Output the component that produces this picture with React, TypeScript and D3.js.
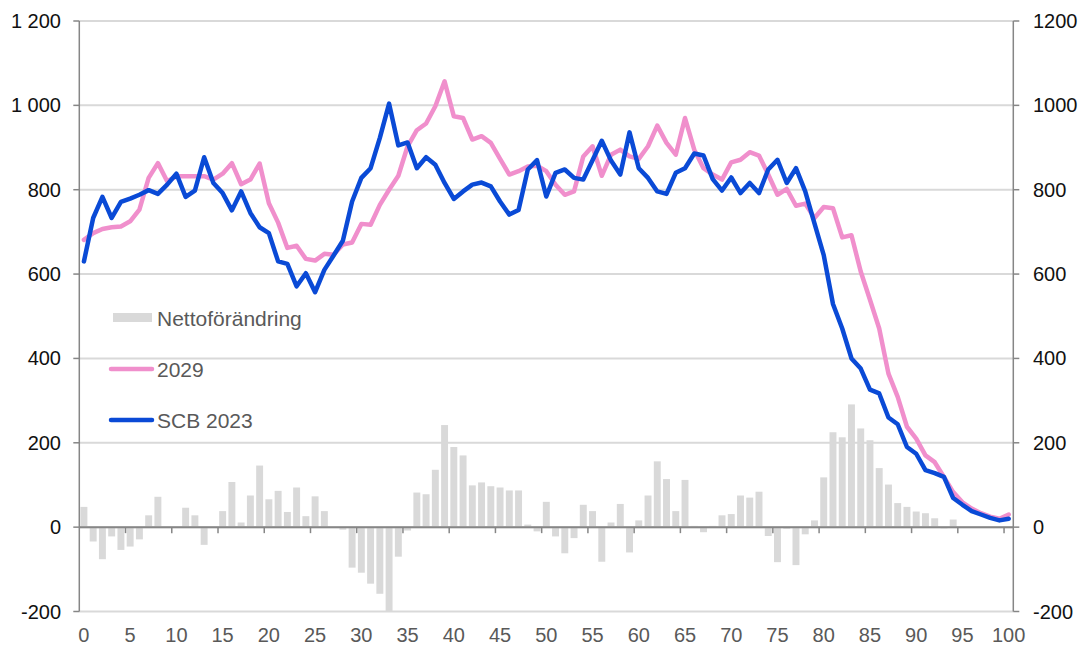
import React from "react";
import * as d3 from "d3";

const ages: number[] = d3.range(0, 101);

const netChange: number[] = [
  48, -34, -76, -22, -54, -46, -29, 28, 72, 0,
  0, 46, 28, -42, 0, 38, 107, 11, 75, 146,
  66, 86, 36, 94, 26, 73, 38, 0, -6, -96,
  -108, -134, -158, -200, -70, -8, 82, 78, 136, 242,
  190, 170, 99, 106, 97, 94, 87, 87, 6, -10,
  60, -22, -62, -26, 53, 38, -82, 11, 55, -60,
  16, 75, 156, 114, 38, 112, 3, -12, 3, 28,
  31, 75, 70, 84, -21, -83, -4, -90, -17, 16,
  118, 225, 213, 291, 234, 206, 140, 101, 57, 48,
  37, 33, 21, -3, 18, 0, 0, 0, 0, 0,
  0,
];

const proj2029: number[] = [
  681, 697, 707, 711, 713, 725, 753, 828, 863, 820,
  832, 832, 832, 832, 824, 838, 863, 813, 824, 862,
  768, 722, 662, 667, 636, 632, 648, 646, 670, 675,
  719, 717, 764, 800, 833, 903, 941, 957, 998, 1057,
  974, 970, 919, 927, 911, 873, 836, 844, 855, 857,
  844, 812, 788, 796, 879, 903, 833, 883, 895, 879,
  873, 903, 952, 911, 883, 970, 895, 851, 836, 824,
  865, 871, 889, 881, 836, 788, 802, 762, 767, 733,
  759, 756, 687, 692, 606, 539, 471, 364, 309, 238,
  210, 170, 154, 119, 83, 59, 44, 33, 25, 20,
  30,
];

const scb2023: number[] = [
  630, 733, 783, 733, 771, 779, 788, 799, 790, 812,
  838, 783, 798, 877, 816, 792, 751, 796, 745, 711,
  697, 630, 624, 571, 602, 557, 610, 644, 679, 772,
  828, 851, 923, 1004, 905, 912, 851, 877, 859, 816,
  778, 796, 812, 817, 808, 772, 741, 752, 848, 870,
  784, 840, 848, 828, 824, 870, 916, 869, 836, 936,
  851, 828, 796, 790, 840, 851, 886, 881, 825, 798,
  829, 792, 816, 792, 848, 871, 816, 851, 796, 720,
  645, 529, 471, 400, 376, 326, 317, 260, 244, 190,
  174, 135, 128, 119, 69, 53, 38, 30, 22, 16,
  20,
];

const yTicks: number[] = [-200, 0, 200, 400, 600, 800, 1000, 1200];
const xTickLabels: number[] = [0, 5, 10, 15, 20, 25, 30, 35, 40, 45, 50, 55, 60, 65, 70, 75, 80, 85, 90, 95, 100];

const legendLabels = { bars: "Nettoförändring", pink: "2029", blue: "SCB 2023" };

const W = 1091;
const H = 646;
const left = 79.3;
const right = 1013.3;
const top = 21;
const bottom = 611.5;

const PINK = "#F08FCC";
const BLUE = "#0A4AD6";
const BAR = "#D9D9D9";
const AXIS = "#868686";
const GRID = "#D9D9D9";
const FONT = "'Liberation Sans', Arial, sans-serif";

export default function App() {
  const x = d3
    .scaleBand<number>()
    .domain(ages)
    .range([left, right])
    .paddingInner(0.25)
    .paddingOuter(0.125);
  const step = x.step();
  const cx = (i: number) => (x(i) as number) + x.bandwidth() / 2;
  const boundary = (i: number) => left + step * i;
  const y = d3.scaleLinear().domain([-200, 1200]).range([bottom, top]);

  const line = d3
    .line<number>()
    .x((_, i) => cx(ages[i]))
    .y((d) => y(d));

  const fmtLeft = (v: number) => {
    const s = Math.abs(v).toString();
    const withSpace = s.length > 3 ? s.slice(0, s.length - 3) + " " + s.slice(-3) : s;
    return (v < 0 ? "-" : "") + withSpace;
  };

  return (
    <svg
      width={W}
      height={H}
      style={{ position: "absolute", left: 0, top: 0, background: "#fff" }}
      fontFamily={FONT}
    >
      {/* gridlines */}
      {yTicks.map((t) => (
        <line
          key={"g" + t}
          x1={left}
          x2={right}
          y1={y(t)}
          y2={y(t)}
          stroke={GRID}
          strokeWidth={2}
        />
      ))}

      {/* bars */}
      {ages.map((a, i) => {
        const v = netChange[i];
        if (v === 0) return null;
        const y0 = y(0);
        const y1 = y(v);
        return (
          <rect
            key={"b" + a}
            x={x(a)}
            width={x.bandwidth()}
            y={Math.min(y0, y1)}
            height={Math.abs(y1 - y0)}
            fill={BAR}
          />
        );
      })}

      {/* zero axis */}
      <line x1={left} x2={right} y1={y(0)} y2={y(0)} stroke={AXIS} strokeWidth={2} />
      {xTickLabels.filter((t) => t > 0).map((t) => (
        <line
          key={"xt" + t}
          x1={boundary(t)}
          x2={boundary(t)}
          y1={y(0)}
          y2={y(0) + 6}
          stroke={AXIS}
          strokeWidth={1.5}
        />
      ))}

      {/* left axis */}
      <line x1={left} x2={left} y1={top} y2={bottom} stroke={AXIS} strokeWidth={1.5} />
      {yTicks.map((t) => (
        <g key={"ly" + t}>
          <line x1={left - 6} x2={left} y1={y(t)} y2={y(t)} stroke={AXIS} strokeWidth={1.5} />
          <text x={61} y={y(t) + 7} textAnchor="end" fontSize={20} fill="#111">
            {fmtLeft(t)}
          </text>
        </g>
      ))}

      {/* right axis */}
      <line x1={right} x2={right} y1={top} y2={bottom} stroke={AXIS} strokeWidth={1.5} />
      {yTicks.map((t) => (
        <g key={"ry" + t}>
          <line x1={right} x2={right + 6} y1={y(t)} y2={y(t)} stroke={AXIS} strokeWidth={1.5} />
          <text x={1033} y={y(t) + 7} textAnchor="start" fontSize={20} fill="#111">
            {t}
          </text>
        </g>
      ))}

      {/* x labels */}
      {xTickLabels.map((t) => (
        <text
          key={"xl" + t}
          x={cx(t)}
          y={641.5}
          textAnchor="middle"
          fontSize={20}
          fill="#595959"
        >
          {t}
        </text>
      ))}

      {/* lines */}
      <path
        d={line(proj2029) || ""}
        fill="none"
        stroke={PINK}
        strokeWidth={4.5}
        strokeLinejoin="round"
        strokeLinecap="round"
      />
      <path
        d={line(scb2023) || ""}
        fill="none"
        stroke={BLUE}
        strokeWidth={4.5}
        strokeLinejoin="round"
        strokeLinecap="round"
      />

      {/* legend */}
      <rect x={113} y={313} width={39} height={9} fill={BAR} />
      <text x={157} y={325.5} fontSize={21} fill="#595959">
        {legendLabels.bars}
      </text>
      <line x1={111} x2={152} y1={369} y2={369} stroke={PINK} strokeWidth={4.5} strokeLinecap="round" />
      <text x={157} y={376.5} fontSize={21} fill="#595959">
        {legendLabels.pink}
      </text>
      <line x1={111} x2={152} y1={420} y2={420} stroke={BLUE} strokeWidth={4.5} strokeLinecap="round" />
      <text x={157} y={427.5} fontSize={21} fill="#595959">
        {legendLabels.blue}
      </text>
    </svg>
  );
}
